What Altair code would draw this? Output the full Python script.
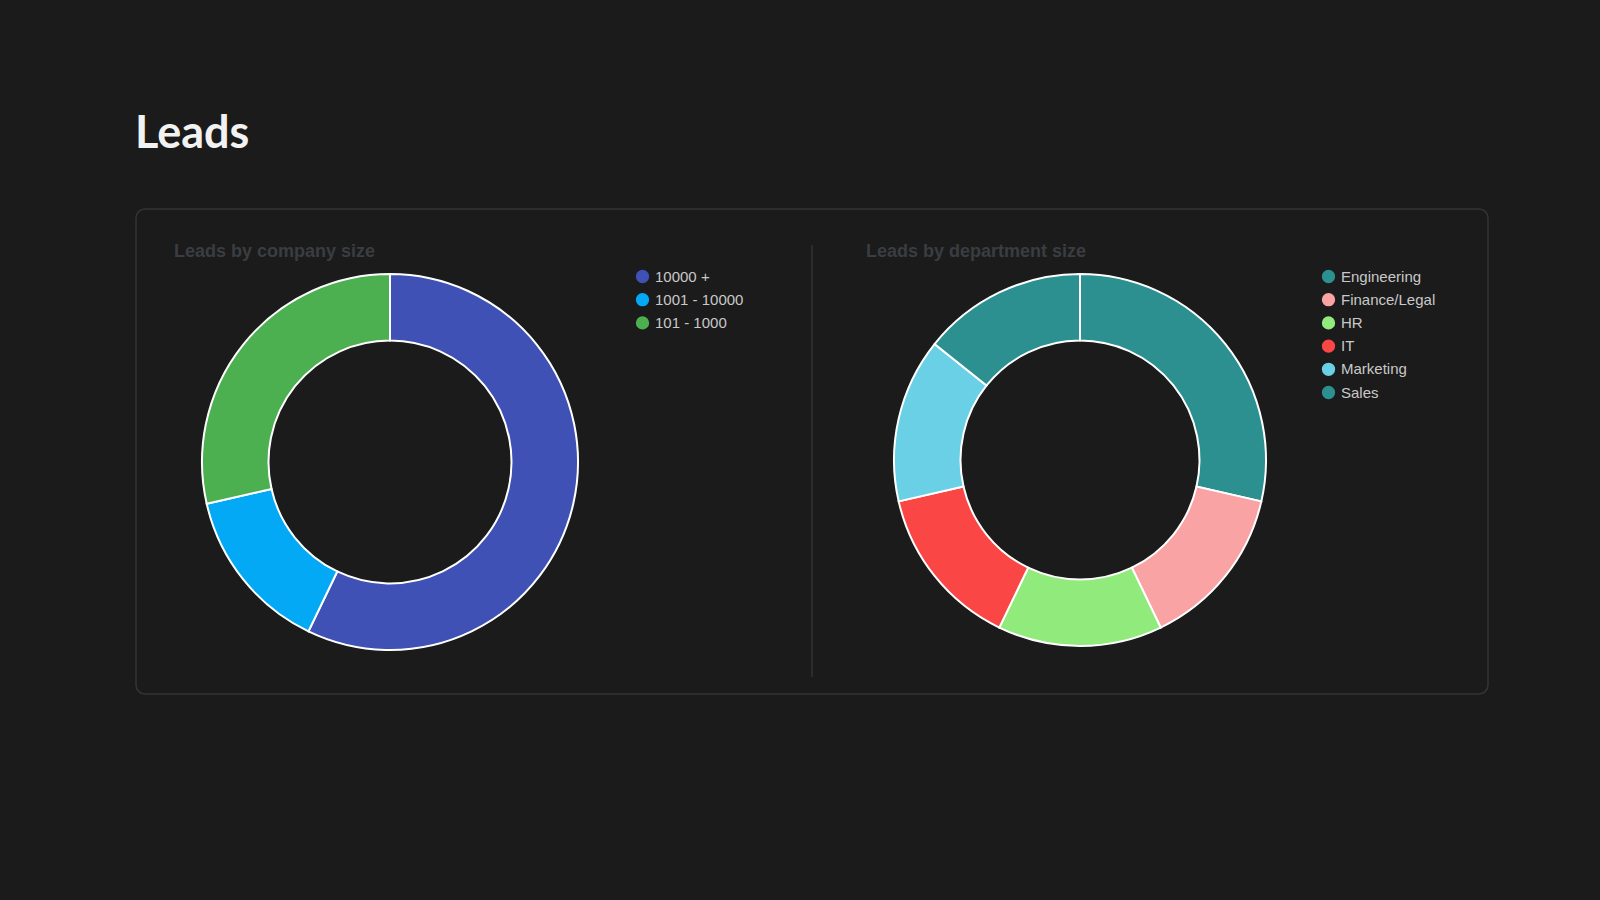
import altair as alt
import pandas as pd

# ---- data ----
size_cats = ["10000 +", "1001 - 10000", "101 - 1000"]
size_vals = [8, 2, 4]
size_colors = ["#3f51b5", "#03a9f4", "#4caf50"]

dept_cats = ["Engineering", "Finance/Legal", "HR", "IT", "Marketing", "Sales"]
dept_vals = [2, 1, 1, 1, 1, 1]
dept_colors = ["#2b908f", "#f9a3a4", "#91ea7c", "#fb4646", "#6ad0e5", "#2b908f"]

page_title = "Leads"
panel_titles = ["Leads by company size", "Leads by department size"]

BG = "#1b1b1b"

size_df = pd.DataFrame({"cat": size_cats, "val": size_vals, "idx": list(range(len(size_cats)))})
dept_df = pd.DataFrame({"cat": dept_cats, "val": dept_vals, "idx": list(range(len(dept_cats)))})
one = pd.DataFrame({"a": [0]})

box = alt.Chart(one).mark_rect(
    fillOpacity=0, stroke="#343434", strokeWidth=1.5, cornerRadius=9
).encode(x=alt.value(136), x2=alt.value(1488), y=alt.value(209), y2=alt.value(694))

divider = alt.Chart(one).mark_rule(color="#2c2c2c", strokeWidth=2).encode(
    x=alt.value(812), y=alt.value(245), y2=alt.value(677)
)

title = alt.Chart(pd.DataFrame({"t": [page_title]})).mark_text(
    font="Lato", fontWeight="bold", fontSize=45, color="#f2f2f2", align="left", baseline="alphabetic"
).encode(text="t:N", x=alt.value(135), y=alt.value(148))

ptitles = alt.Chart(pd.DataFrame({"t": panel_titles, "px": [174, 866]})).mark_text(
    font="Liberation Sans", fontWeight="bold", fontSize=18, color="#3a3d41", align="left", baseline="alphabetic"
).encode(text="t:N", x=alt.X("px:Q", scale=None), y=alt.value(257))

def legend(x):
    return alt.Legend(
        orient="none", legendX=x, legendY=269, padding=0,
        symbolType="circle", symbolSize=177, symbolStrokeWidth=0,
        labelColor="#c9c9c9", labelFont="Liberation Sans", labelFontSize=15,
        labelOffset=5, rowPadding=7.2, labelLimit=300,
    )

left = alt.Chart(size_df).mark_arc(
    radius=188, radius2=121.5, stroke="white", strokeWidth=2
).encode(
    theta=alt.Theta("val:Q", stack=True),
    color=alt.Color("cat:N", title=None,
                    scale=alt.Scale(domain=size_cats, range=size_colors),
                    legend=legend(635)),
    order=alt.Order("idx:Q", sort="ascending"),
    x=alt.value(390), y=alt.value(462),
)

right = alt.Chart(dept_df).mark_arc(
    radius=186, radius2=119.5, stroke="white", strokeWidth=2
).encode(
    theta=alt.Theta("val:Q", stack=True),
    color=alt.Color("cat:N", title=None,
                    scale=alt.Scale(domain=dept_cats, range=dept_colors),
                    legend=legend(1321)),
    order=alt.Order("idx:Q", sort="ascending"),
    x=alt.value(1080), y=alt.value(460),
)

chart = alt.layer(box, divider, title, ptitles, left, right).resolve_scale(
    theta="independent", color="independent"
).properties(
    width=1600, height=900, background=BG, padding=0, autosize="none"
).configure_view(strokeWidth=0)

chart.save("out.html", embed_options={"renderer": "svg", "actions": False})
